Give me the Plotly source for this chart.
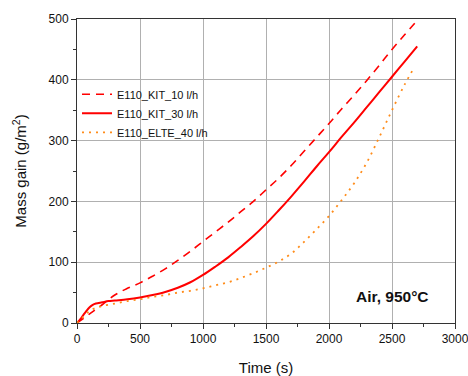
import plotly.graph_objects as go

# KIT 10 l/h (dashed)
t_kit10 = [0, 100, 200, 300, 400, 500, 600, 700, 800, 900, 1000, 1100, 1200, 1300, 1400,
           1500, 1600, 1700, 1800, 1900, 2000, 2100, 2200, 2300, 2400, 2500, 2600, 2705]
m_kit10 = [0, 15, 30, 46, 57, 66, 77, 89, 103, 118, 134, 150, 166, 183, 200,
           219, 238, 259, 282, 305, 328, 352, 375, 399, 424, 450, 474, 499]

# KIT 30 l/h (solid)
t_kit30 = [0, 25, 50, 75, 100, 125, 150, 200, 250, 300, 400, 500, 600, 700, 800, 900, 1000,
           1100, 1200, 1300, 1400, 1500, 1600, 1700, 1800, 1900, 2000, 2100, 2200, 2300,
           2400, 2500, 2600, 2700]
m_kit30 = [0, 6, 13, 20, 26, 30, 32, 34, 36, 37, 39, 42, 46, 51, 58, 67, 79,
           93, 108, 125, 143, 163, 185, 208, 232, 257, 281, 306, 330, 355,
           380, 405, 430, 455]

# ELTE 40 l/h (dotted)
t_elte40 = [0, 50, 100, 150, 200, 300, 400, 500, 600, 700, 800, 900, 1000, 1100, 1200, 1300,
            1400, 1500, 1600, 1700, 1800, 1900, 2000, 2100, 2200, 2300, 2400, 2500, 2600, 2670]
m_elte40 = [0, 10, 20, 25, 28, 32, 36, 39, 43, 46, 50, 53, 57, 62, 67, 74,
            82, 91, 101, 114, 133, 154, 176, 202, 230, 264, 306, 350, 392, 418]

x_ticks = [0, 500, 1000, 1500, 2000, 2500, 3000]
y_ticks = [0, 100, 200, 300, 400, 500]

fig = go.Figure()
fig.add_trace(go.Scatter(x=t_kit10, y=m_kit10, mode="lines", name="E110_KIT_10 l/h",
                         line=dict(color="#ff0000", width=1.6, dash="8px,6px", shape="spline")))
fig.add_trace(go.Scatter(x=t_kit30, y=m_kit30, mode="lines", name="E110_KIT_30 l/h",
                         line=dict(color="#ff0000", width=2, shape="spline")))
fig.add_trace(go.Scatter(x=t_elte40, y=m_elte40, mode="lines", name="E110_ELTE_40 l/h",
                         line=dict(color="#ff8c1a", width=1.8, dash="2px,5px", shape="spline")))

axis_common = dict(
    showline=True, linecolor="#333333", linewidth=1, mirror=True,
    showgrid=True, gridcolor="#b0b0b0", gridwidth=1.2,
    zeroline=False, ticks="outside", ticklen=5, tickcolor="#333333",
    tickfont=dict(size=12, color="#111111"), automargin=False,
    ticklabeloverflow="allow",
)

fig.update_xaxes(range=[0, 3000], tickvals=x_ticks,
                 title=dict(text="Time (s)", font=dict(size=15, color="#111111"), standoff=22),
                 minor=dict(ticks="outside", ticklen=3, dtick=250, tick0=0, tickcolor="#333333", showgrid=False),
                 **axis_common)
fig.update_yaxes(range=[0, 500], tickvals=y_ticks,
                 title=dict(text="Mass gain (g/m<sup>2</sup>)", font=dict(size=15, color="#111111"), standoff=18),
                 minor=dict(ticks="outside", ticklen=3, dtick=50, tick0=0, tickcolor="#333333", showgrid=False),
                 **axis_common)

fig.add_annotation(text="<b>Air, 950°C</b>",
                   x=(392 - 77) / 378, y=(323 - 296) / 304, xref="paper", yref="paper",
                   xanchor="center", yanchor="middle",
                   showarrow=False, font=dict(size=15.5, color="#111111"))

fig.update_layout(
    width=468, height=376,
    margin=dict(l=77, r=13, t=19, b=53),
    paper_bgcolor="white", plot_bgcolor="white",
    font=dict(family="Liberation Sans, Arial, sans-serif", color="#111111"),
    legend=dict(x=0.0, y=0.80, xanchor="left", yanchor="top",
                bgcolor="rgba(0,0,0,0)", font=dict(size=11),
                tracegroupgap=0, itemwidth=30),
    showlegend=True,
)

fig.write_html("out.html")
